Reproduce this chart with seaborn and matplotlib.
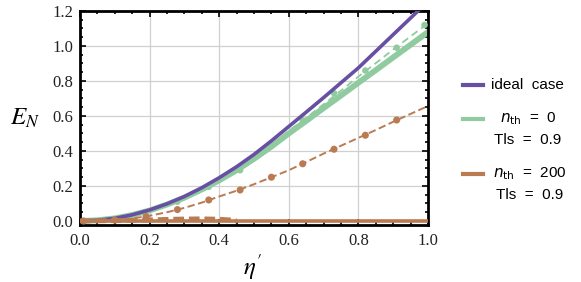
import matplotlib
matplotlib.use('Agg')
import matplotlib.pyplot as plt
from matplotlib.lines import Line2D
from matplotlib.ticker import MultipleLocator
import pandas as pd
import seaborn as sns

# values
eta = [0.0, 0.05, 0.1, 0.15, 0.2, 0.25, 0.3, 0.35, 0.4, 0.45, 0.5,
       0.55, 0.6, 0.65, 0.7, 0.75, 0.8, 0.85, 0.9, 0.95, 1.0]
ideal = [0.0, 0.004, 0.015, 0.035, 0.063, 0.098, 0.14, 0.19, 0.247, 0.31, 0.38,
         0.458, 0.54, 0.622, 0.705, 0.79, 0.875, 0.97, 1.065, 1.16, 1.255]
green_theory = [0.0, 0.004, 0.015, 0.034, 0.06, 0.094, 0.133, 0.18, 0.232, 0.29, 0.355,
                0.425, 0.5, 0.572, 0.645, 0.717, 0.79, 0.862, 0.935, 1.007, 1.08]
green_dashed = [0.0, 0.004, 0.015, 0.035, 0.062, 0.097, 0.138, 0.186, 0.24, 0.3, 0.366,
                0.438, 0.515, 0.59, 0.667, 0.745, 0.825, 0.902, 0.98, 1.055, 1.13]
brown_dashed = [0.0, 0.001, 0.004, 0.014, 0.03, 0.05, 0.075, 0.105, 0.14, 0.173, 0.21,
                0.25, 0.29, 0.337, 0.385, 0.43, 0.475, 0.52, 0.567, 0.612, 0.657]
brown_theory = [0.0] * len(eta)

eta_dots = [0.01, 0.10, 0.19, 0.28, 0.37, 0.46, 0.55, 0.64, 0.73, 0.82, 0.91]
brown_dots = [0.0, 0.005, 0.025, 0.065, 0.12, 0.177, 0.25, 0.327, 0.41, 0.49, 0.577]
eta_gdots = [0.28, 0.37, 0.46, 0.55, 0.64, 0.73, 0.82, 0.91, 0.99]
green_dots = [0.11, 0.195, 0.29, 0.43, 0.575, 0.73, 0.86, 0.99, 1.12]

eta_low = [0.0, 0.1, 0.2, 0.27, 0.3, 0.35, 0.4, 0.43, 0.45]
brown_low = [0.0, 0.002, 0.006, 0.01, 0.011, 0.012, 0.01, 0.006, 0.0]

PURPLE = '#674fa3'
GREEN = '#90cba0'
BROWN = '#b97b52'

df = pd.DataFrame({'eta': eta, 'ideal': ideal, 'g_th': green_theory,
                   'g_da': green_dashed, 'b_da': brown_dashed, 'b_th': brown_theory})

fig = plt.figure(figsize=(5.81, 2.82), dpi=100)
ax = fig.add_axes([80 / 581, 1 - 225 / 282, 348 / 581, 214 / 282])

sns.lineplot(data=df, x='eta', y='g_th', ax=ax, color=GREEN, lw=4.2, zorder=2)
sns.lineplot(data=df, x='eta', y='g_da', ax=ax, color=GREEN, lw=1.3, zorder=3,
             linestyle=(0, (4, 2.5)))
sns.scatterplot(x=eta_gdots, y=green_dots, ax=ax, color=GREEN, s=22, edgecolor='none', zorder=3)
sns.lineplot(data=df, x='eta', y='ideal', ax=ax, color=PURPLE, lw=2.6, zorder=4)
sns.lineplot(data=df, x='eta', y='b_th', ax=ax, color=BROWN, lw=2.6, zorder=4)
sns.lineplot(x=eta_low, y=brown_low, ax=ax, color=BROWN, lw=3.5, zorder=4, linestyle=(0, (2.2, 1.0)))
sns.lineplot(data=df, x='eta', y='b_da', ax=ax, color=BROWN, lw=1.4, zorder=5, linestyle=(0, (3.8, 1.8)))
sns.scatterplot(x=eta_dots, y=brown_dots, ax=ax, color=BROWN, s=26, edgecolor='none', zorder=5)

ax.set_xlim(0, 1.0)
ax.set_ylim(-0.023, 1.2)
ax.xaxis.set_major_locator(MultipleLocator(0.2))
ax.xaxis.set_minor_locator(MultipleLocator(0.05))
ax.yaxis.set_major_locator(MultipleLocator(0.2))
ax.yaxis.set_minor_locator(MultipleLocator(0.05))
xt = [0.0, 0.2, 0.4, 0.6, 0.8, 1.0]
yt = [0.0, 0.2, 0.4, 0.6, 0.8, 1.0, 1.2]
ax.set_xticks(xt)
ax.set_yticks(yt)
ax.set_xticklabels([f'{v:.1f}' for v in xt], fontfamily='Liberation Serif', fontsize=12, color='#222222')
ax.set_yticklabels([f'{v:.1f}' for v in yt], fontfamily='Liberation Serif', fontsize=12, color='#222222')
ax.tick_params(which='both', direction='in', top=True, right=True, width=1.2, color='black')
ax.tick_params(which='major', length=4)
ax.tick_params(axis='x', which='major', pad=6)
ax.tick_params(axis='y', which='major', pad=5)
ax.tick_params(which='minor', length=2.2)
ax.grid(True, which='major', color='#d0d0d0', lw=0.9)
for s in ax.spines.values():
    s.set_linewidth(2.0)
    s.set_color('black')
ax.set_xlabel('')
ax.set_ylabel('')

fig.text(25 / 581, 1 - 118 / 282, r'$E_N$', fontsize=18, ha='center', va='center',
         math_fontfamily='stix')
fig.text(253 / 581, 1 - 267 / 282, r"$\eta'$", fontsize=18, ha='center', va='center',
         math_fontfamily='stix')

# legend drawn by hand: handle sits on the first line of each label
def legend_row(y, color, lines, xc=None):
    fig.add_artist(Line2D([463 / 581, 483 / 581], [1 - y / 282] * 2, color=color, lw=3,
                          transform=fig.transFigure))
    for i, txt in enumerate(lines):
        if xc is None:
            fig.text(491 / 581, 1 - (y + 21 * i) / 282, txt, ha='left', va='center',
                     family='Liberation Sans', fontsize=11, math_fontfamily='dejavusans')
        else:
            fig.text(xc / 581, 1 - (y + 21 * i) / 282, txt, ha='center', va='center',
                     family='Liberation Sans', fontsize=11, math_fontfamily='dejavusans')

legend_row(85, PURPLE, ['ideal  case'])
legend_row(119, GREEN, [r'$n_{\rm th}$  =  0', 'Tls  =  0.9'], xc=528)
legend_row(174, BROWN, [r'$n_{\rm th}$  =  200', 'Tls  =  0.9'], xc=530)

fig.savefig('out.png', dpi=100)
